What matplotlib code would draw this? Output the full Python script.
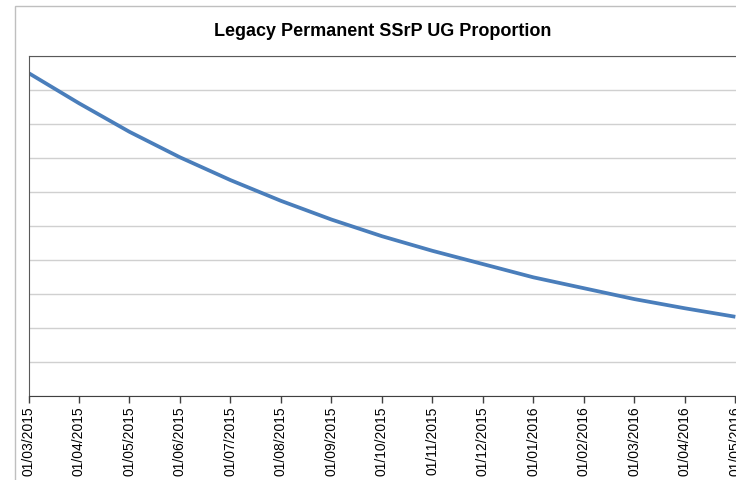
import matplotlib.pyplot as plt
from matplotlib.patches import Rectangle

# monthly values (gridline units)
months = ['01/03/2015', '01/04/2015', '01/05/2015', '01/06/2015', '01/07/2015',
          '01/08/2015', '01/09/2015', '01/10/2015', '01/11/2015', '01/12/2015',
          '01/01/2016', '01/02/2016', '01/03/2016', '01/04/2016', '01/05/2016']
proportion = [9.50, 8.61, 7.77, 7.02, 6.35, 5.74, 5.19, 4.70, 4.27, 3.88,
              3.49, 3.17, 2.85, 2.58, 2.33]

fig = plt.figure(figsize=(7.36, 4.81), dpi=100)

# outer chart border (clipped by the image edge)
fig.patches.append(Rectangle((15 / 736, -0.1), 1.2, 1 - 7 / 481 + 0.1,
                             transform=fig.transFigure, fill=False,
                             edgecolor='#BFBFBF', linewidth=1))

ax = fig.add_axes([28.5 / 736, 84 / 481, 722 / 736, 340 / 481])
x = list(range(len(months)))
ax.plot(x, proportion, color='#4A7EBB', linewidth=2.7, solid_capstyle='butt')

ax.set_xlim(0, 14.3)
ax.set_ylim(0, 10)
ax.set_yticks(range(0, 11))
ax.set_yticklabels([])
ax.tick_params(axis='y', length=0)
ax.grid(axis='y', color='#D0D0D0', linewidth=1)
ax.set_axisbelow(True)

ax.set_xticks(x)
ax.set_xticklabels(months, rotation=90, fontsize=10, family='Liberation Sans')
ax.tick_params(axis='x', length=5, width=1, color='#404040', pad=2)

for side in ['top', 'left']:
    ax.spines[side].set_color('#595959')
ax.spines['bottom'].set_color('#404040')
ax.spines['right'].set_visible(False)

fig.text(383 / 736, 1 - 31 / 481, 'Legacy Permanent SSrP UG Proportion',
         ha='center', va='center', fontsize=13, fontweight='bold',
         family='Liberation Sans')

fig.savefig('out.png', dpi=100)
